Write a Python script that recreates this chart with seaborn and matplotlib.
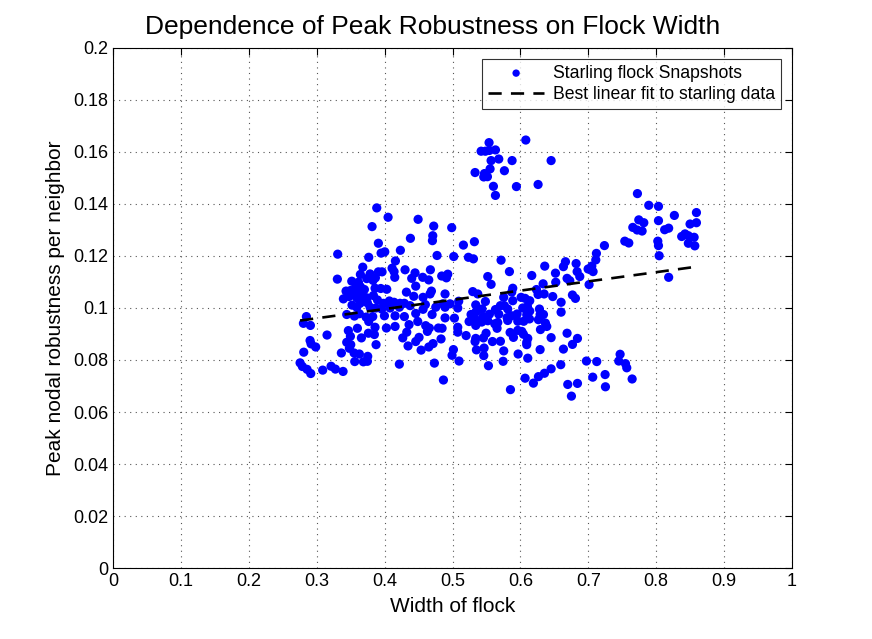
import numpy as np
import pandas as pd
import matplotlib
matplotlib.use('Agg')
import matplotlib.pyplot as plt
import seaborn as sns

# ширина стаи и пиковая устойчивость
width = [
    0.3884, 0.4051, 0.4493, 0.3815, 0.4723, 0.4988, 0.4709, 0.4704, 0.4380, 0.3908,
    0.3309, 0.3948, 0.4002, 0.4232, 0.3766, 0.4772, 0.5018, 0.4159, 0.3678, 0.4110,
    0.4301, 0.3908, 0.3962, 0.3643, 0.3786, 0.4139, 0.4448, 0.4674, 0.4149, 0.4399,
    0.4561, 0.4650, 0.4841, 0.4930, 0.4910, 0.3304, 0.3516, 0.3614, 0.3737, 0.3830,
    0.3864, 0.4458, 0.3432, 0.3496, 0.3574, 0.3643, 0.3702, 0.3599, 0.3540, 0.3859,
    0.3943, 0.4031, 0.4321, 0.4689, 0.4669, 0.4890, 0.3393, 0.3476, 0.3589, 0.3687,
    0.3741, 0.3835, 0.3894, 0.4429, 0.4566, 0.3520, 0.3638, 0.3746, 0.3982, 0.4070,
    0.4139, 0.4227, 0.4291, 0.4600, 0.4856, 0.4964, 0.5091, 0.3786, 0.3874, 0.3957,
    0.4080, 0.4217, 0.4375, 0.4566, 0.4753, 0.4890, 0.3589, 0.3442, 0.3555, 0.3628,
    0.3727, 0.3825, 0.3997, 0.4154, 0.4291, 0.4458, 0.4699, 0.4890, 0.5028, 0.5077,
    0.2848, 0.2804, 0.2907, 0.3766, 0.3859, 0.4026, 0.4154, 0.4360, 0.4488, 0.4605,
    0.4659, 0.4792, 0.4846, 0.5077, 0.5077, 0.3466, 0.3599, 0.3496, 0.3658, 0.3761,
    0.3849, 0.4326, 0.4267, 0.4507, 0.4630, 0.3152, 0.2902, 0.2917, 0.2985, 0.3442,
    0.3501, 0.3481, 0.3874, 0.4345, 0.4458, 0.4713, 0.4650, 0.4831, 0.5013, 0.4993,
    0.2809, 0.3363, 0.3550, 0.3628, 0.3751, 0.4537, 0.2755, 0.2789, 0.2858, 0.2912,
    0.3088, 0.3211, 0.3275, 0.3388, 0.3560, 0.3687, 0.3746, 0.4217, 0.4733, 0.5096,
    0.4866,
    0.5632, 0.7723, 0.7890, 0.8033, 0.7743, 0.7817, 0.7655, 0.7719, 0.7792, 0.8033,
    0.5160, 0.5322, 0.5234, 0.5308, 0.7537, 0.7596, 0.7237, 0.8023, 0.8033, 0.8043,
    0.7119, 0.7110, 0.5715, 0.6663, 0.6633, 0.6820, 0.6358, 0.6516, 0.5838, 0.6167,
    0.5519, 0.5568, 0.6997, 0.7070, 0.7051, 0.6835, 0.6874, 0.6687, 0.6727, 0.6334,
    0.6520, 0.7011, 0.5298, 0.5372, 0.5887, 0.5872, 0.6236, 0.6260, 0.6349, 0.5754,
    0.5887, 0.6010, 0.6069, 0.6137, 0.6476, 0.6766, 0.6810, 0.6599, 0.5342, 0.5484,
    0.5347, 0.5435, 0.5273, 0.5327, 0.5450, 0.5543, 0.5632, 0.5705, 0.5764, 0.5813,
    0.5681, 0.5804, 0.5872, 0.5951, 0.6034, 0.6103, 0.6137, 0.6093, 0.6133, 0.6049,
    0.6280, 0.6290, 0.6339, 0.6265, 0.6599, 0.5244, 0.5342, 0.5430, 0.5519, 0.5622,
    0.5666, 0.5656, 0.5813, 0.5961, 0.6368, 0.6388, 0.6295, 0.5200, 0.5494, 0.5848,
    0.5897, 0.5961, 0.6020, 0.6044, 0.5342, 0.5455, 0.5588, 0.5705, 0.6108, 0.6093,
    0.6093, 0.6452, 0.6687, 0.6840, 0.5352, 0.5465, 0.5460, 0.5754, 0.5966, 0.6108,
    0.6290, 0.6633, 0.6766, 0.5529, 0.5745, 0.6594, 0.6452, 0.6354, 0.6265, 0.6069,
    0.6191, 0.5853, 0.6697, 0.6840, 0.6751, 0.6972, 0.7124, 0.7065, 0.7247, 0.7252,
    0.7468, 0.7448, 0.7547, 0.7566, 0.7645, 0.5332,
    0.8267, 0.8124, 0.8183, 0.8498, 0.8375, 0.8424, 0.8473, 0.8473, 0.8183,
    0.8592, 0.8592, 0.8558, 0.8568,
    0.5538, 0.6079, 0.5421, 0.5484, 0.5543, 0.5632, 0.5568, 0.5681, 0.5877, 0.6452,
    0.5332, 0.5470, 0.5460, 0.5514, 0.5553, 0.5764, 0.5602, 0.5941, 0.6260,
]
robustness = [
    0.1385, 0.1349, 0.1341, 0.1313, 0.1315, 0.1309, 0.1278, 0.1259, 0.1268, 0.1249,
    0.1207, 0.1211, 0.1216, 0.1222, 0.1195, 0.1202, 0.1198, 0.1181, 0.1157, 0.1153,
    0.1147, 0.1139, 0.1139, 0.1129, 0.1131, 0.1140, 0.1135, 0.1147, 0.1118, 0.1114,
    0.1118, 0.1108, 0.1123, 0.1130, 0.1116, 0.1111, 0.1103, 0.1099, 0.1113, 0.1106,
    0.1116, 0.1084, 0.1065, 0.1067, 0.1080, 0.1082, 0.1071, 0.1062, 0.1057, 0.1076,
    0.1075, 0.1072, 0.1061, 0.1065, 0.1054, 0.1054, 0.1035, 0.1044, 0.1039, 0.1044,
    0.1039, 0.1048, 0.1031, 0.1045, 0.1041, 0.1011, 0.1018, 0.1020, 0.1018, 0.1027,
    0.1022, 0.1018, 0.1018, 0.1013, 0.1016, 0.1016, 0.1026, 0.1003, 0.1000, 0.0996,
    0.1000, 0.1003, 0.1009, 0.0995, 0.1003, 0.1003, 0.1003, 0.0975, 0.0969, 0.0978,
    0.0965, 0.0967, 0.0970, 0.0970, 0.0967, 0.0979, 0.0975, 0.0962, 0.0961, 0.1000,
    0.0967, 0.0941, 0.0933, 0.0948, 0.0926, 0.0923, 0.0929, 0.0936, 0.0948, 0.0932,
    0.0923, 0.0923, 0.0922, 0.0926, 0.0907, 0.0913, 0.0922, 0.0891, 0.0885, 0.0903,
    0.0898, 0.0907, 0.0885, 0.0887, 0.0910, 0.0896, 0.0875, 0.0862, 0.0850, 0.0868,
    0.0859, 0.0845, 0.0859, 0.0854, 0.0871, 0.0863, 0.0850, 0.0881, 0.0840, 0.0818,
    0.0830, 0.0827, 0.0827, 0.0823, 0.0814, 0.0838, 0.0789, 0.0775, 0.0764, 0.0748,
    0.0761, 0.0776, 0.0765, 0.0756, 0.0794, 0.0793, 0.0795, 0.0784, 0.0788, 0.0796,
    0.0723,
    0.1433, 0.1440, 0.1395, 0.1391, 0.1339, 0.1328, 0.1310, 0.1300, 0.1296, 0.1336,
    0.1242, 0.1255, 0.1195, 0.1189, 0.1257, 0.1250, 0.1240, 0.1257, 0.1240, 0.1201,
    0.1210, 0.1185, 0.1184, 0.1178, 0.1159, 0.1171, 0.1161, 0.1134, 0.1140, 0.1125,
    0.1121, 0.1091, 0.1150, 0.1140, 0.1161, 0.1140, 0.1121, 0.1114, 0.1105, 0.1093,
    0.1099, 0.1090, 0.1063, 0.1054, 0.1076, 0.1061, 0.1071, 0.1052, 0.1054, 0.1041,
    0.1028, 0.1041, 0.1037, 0.1028, 0.1044, 0.1050, 0.1037, 0.1022, 0.1012, 0.1025,
    0.0986, 0.0996, 0.0975, 0.0961, 0.0967, 0.0976, 0.0994, 0.1009, 0.1009, 0.0996,
    0.0976, 0.0963, 0.0970, 0.0977, 0.1000, 0.1006, 0.0988, 0.0974, 0.0958, 0.0949,
    0.0996, 0.0975, 0.0975, 0.0955, 0.0984, 0.0948, 0.0933, 0.0946, 0.0951, 0.0939,
    0.0944, 0.0922, 0.0952, 0.0949, 0.0942, 0.0929, 0.0917, 0.0894, 0.0903, 0.0906,
    0.0887, 0.0914, 0.0910, 0.0899, 0.0883, 0.0885, 0.0871, 0.0872, 0.0883, 0.0859,
    0.0868, 0.0886, 0.0903, 0.0883, 0.0839, 0.0846, 0.0817, 0.0835, 0.0823, 0.0807,
    0.0840, 0.0842, 0.0860, 0.0778, 0.0795, 0.0782, 0.0766, 0.0749, 0.0736, 0.0730,
    0.0711, 0.0686, 0.0706, 0.0710, 0.0661, 0.0796, 0.0794, 0.0734, 0.0744, 0.0697,
    0.0822, 0.0796, 0.0786, 0.0770, 0.0727, 0.0871,
    0.1356, 0.1301, 0.1307, 0.1323, 0.1275, 0.1285, 0.1278, 0.1249, 0.1118,
    0.1367, 0.1328, 0.1272, 0.1239,
    0.1636, 0.1646, 0.1603, 0.1603, 0.1606, 0.1608, 0.1567, 0.1573, 0.1567, 0.1567,
    0.1521, 0.1517, 0.1504, 0.1505, 0.1535, 0.1528, 0.1468, 0.1467, 0.1475,
]

x_ticks = [0, 0.1, 0.2, 0.3, 0.4, 0.5, 0.6, 0.7, 0.8, 0.9, 1]
y_ticks = [0, 0.02, 0.04, 0.06, 0.08, 0.1, 0.12, 0.14, 0.16, 0.18, 0.2]

df = pd.DataFrame({'width': width, 'robustness': robustness})

sns.set_style('white')
plt.rcParams['font.family'] = ['Liberation Sans', 'DejaVu Sans']
plt.rcParams['text.color'] = 'black'
plt.rcParams['axes.labelcolor'] = 'black'

fig = plt.figure(figsize=(8.72, 6.39), dpi=100)
ax = fig.add_axes([0.1296, 0.1111, 0.7787, 0.8138])

sns.scatterplot(data=df, x='width', y='robustness', ax=ax, color='#0000ff',
                s=44, edgecolor='none', label='Starling flock Snapshots', zorder=3)

# линейная аппроксимация по данным
coef = np.polyfit(df['width'], df['robustness'], 1)
xf = np.array([df['width'].min(), df['width'].max()])
ax.plot(xf, np.polyval(coef, xf), 'k--', lw=1.9, dashes=(5, 3.5),
        label='Best linear fit to starling data', zorder=4)

ax.set_xlim(0, 1)
ax.set_ylim(0, 0.2)
ax.set_xticks(x_ticks)
ax.set_yticks(y_ticks)
ax.set_xticklabels([f'{t:g}' for t in x_ticks])
ax.set_yticklabels([f'{t:g}' for t in y_ticks])
ax.tick_params(direction='in', length=5, width=0.8, labelsize=13,
               top=True, right=True, colors='black')
ax.grid(True, linestyle=(0, (1, 4)), color='#555555', lw=0.8)
for s in ax.spines.values():
    s.set_color('black')
    s.set_linewidth(0.8)

ax.set_xlabel('Width of flock', fontsize=15, labelpad=5)
ax.set_ylabel('Peak nodal robustness per neighbor', fontsize=15, labelpad=6)
ax.set_title('Dependence of Peak Robustness on Flock Width', fontsize=19,
             pad=10, x=0.47)

leg = ax.legend(loc='upper right', fontsize=12.7, frameon=True, fancybox=False,
                edgecolor='black', borderaxespad=0.6, handlelength=3.2,
                handletextpad=0.5, markerscale=0.8, borderpad=0.35,
                labelspacing=0.25)
leg.get_frame().set_linewidth(0.8)

plt.savefig('out.png', dpi=100)
plt.close()
